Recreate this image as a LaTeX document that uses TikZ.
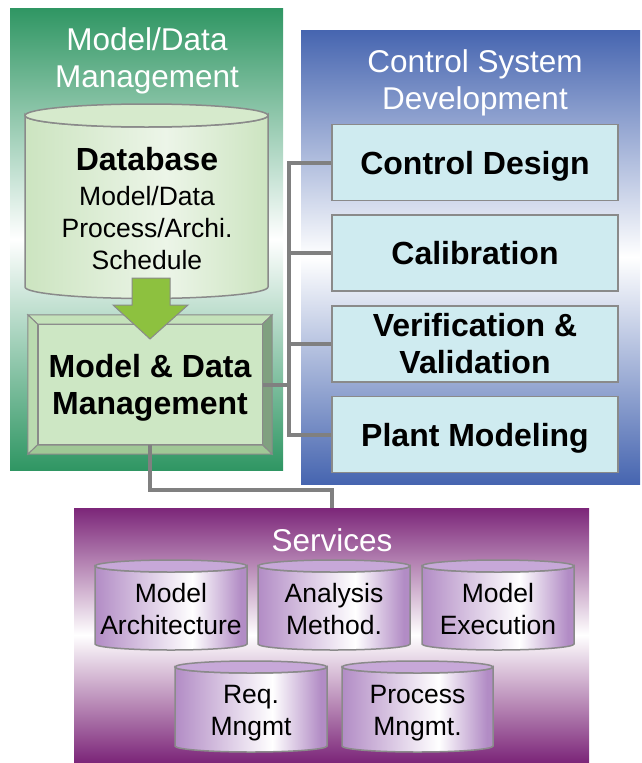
\documentclass[tikz,border=0pt]{standalone}
\usepackage{fontspec}
\setmainfont{Liberation Sans}
\usetikzlibrary{positioning}

\definecolor{mdgreen}{RGB}{47,150,99}
\definecolor{csblue}{RGB}{70,101,176}
\definecolor{svpurple}{RGB}{124,38,121}
\definecolor{boxcyan}{RGB}{207,235,240}
\definecolor{edgegray}{RGB}{138,138,138}
\definecolor{linkgray}{RGB}{128,128,128}
\definecolor{arrowgreen}{RGB}{141,193,63}
\definecolor{dbside}{RGB}{204,228,192}
\definecolor{dblight}{RGB}{236,245,232}
\definecolor{dblid}{RGB}{214,234,204}
\definecolor{svside}{RGB}{178,140,197}
\definecolor{svlid}{RGB}{199,168,216}
\definecolor{mdmfill}{RGB}{205,231,196}
\definecolor{bevtop}{RGB}{196,226,186}
\definecolor{bevleft}{RGB}{186,218,176}
\definecolor{bevright}{RGB}{128,160,128}
\definecolor{bevbot}{RGB}{160,200,150}

\pgfdeclarehorizontalshading{dbshade}{100bp}{color(0bp)=(dbside); color(25bp)=(dbside); color(54bp)=(dblight); color(75bp)=(dbside); color(100bp)=(dbside)}
\pgfdeclarehorizontalshading{svshade}{100bp}{color(0bp)=(svside); color(25bp)=(svside); color(57bp)=(white); color(73bp)=(svside); color(100bp)=(svside)}

\tikzstyle{panel} = [rectangle, inner sep=0pt, draw=none]
\tikzstyle{paneltitle} = [text=white, align=center, text depth=0pt, font=\fontsize{31.5}{37}\selectfont]
\tikzstyle{ctrlbox} = [rectangle, minimum width=286pt, minimum height=76pt, align=center, text depth=0pt, draw=edgegray, line width=1.5pt, fill=boxcyan, font=\bfseries\fontsize{32}{37}\selectfont]
\tikzstyle{mdmbox} = [rectangle, minimum width=224pt, minimum height=120pt, align=center, text depth=0pt, draw=edgegray, line width=1pt, fill=mdmfill, font=\bfseries\fontsize{32}{37}\selectfont]
\tikzstyle{drumtext} = [align=center, text depth=0pt, font=\fontsize{26.5}{32}\selectfont]
\tikzstyle{drumline} = [draw=edgegray, line width=1.5pt]
\tikzstyle{bevel} = [draw=edgegray, line width=1pt]
\tikzstyle{link} = [draw=linkgray, line width=4pt]

% #1 left, #2 right, #3 top, #4 bottom, #5 y radius, #6 body shading, #7 lid colour
\newcommand{\drum}[7]{%
  \path[drumline, shade, shading=#6] (#1,#3) -- (#1,#4)
    arc[start angle=180, end angle=360, x radius={(#2-#1)/2}, y radius=#5] -- (#2,#3)
    arc[start angle=0, end angle=-180, x radius={(#2-#1)/2}, y radius=#5] -- cycle;
  \path[drumline, fill=#7] ({(#1+#2)/2},#3) ellipse[x radius={(#2-#1)/2}, y radius=#5];}

\begin{document}
\begin{tikzpicture}[x=1pt, y=1pt, node distance=90.7pt]
    \useasboundingbox (0,0) rectangle (642,-763);

    % three coloured areas
    \node (mdpanel) [panel, top color=mdgreen, bottom color=mdgreen, middle color=white, minimum width=273pt, minimum height=462pt] at (146.5,-239) {};
    \node (cspanel) [panel, top color=csblue, bottom color=csblue, middle color=white, minimum width=339pt, minimum height=454pt] at (470.5,-257) {};
    \node (svpanel) [panel, top color=svpurple, bottom color=svpurple, middle color=white, minimum width=515pt, minimum height=254pt] at (331.5,-635) {};

    \node (mdtitle) [paneltitle] at (147,-58) {Model/Data\\Management};
    \node (cstitle) [paneltitle] at (475,-80) {Control System\\Development};
    \node (svtitle) [paneltitle] at (332,-540) {Services};

    % database
    \drum{25}{268}{-115.5}{-287}{11.5}{dbshade}{dblid}
    \node (db) [drumtext] at (147,-208) {{\bfseries\fontsize{32}{37}\selectfont Database}\\[3pt]Model/Data\\Process/Archi.\\Schedule};

    % bevelled management box
    \node (mdmframe) [panel, minimum width=244pt, minimum height=139pt] at (150,-384.5) {};
    \node (mdm) [mdmbox] at (mdmframe.center) {Model \& Data\\Management};
    \filldraw[bevel, fill=bevtop] (mdmframe.north west) -- (mdmframe.north east) -- (mdm.north east) -- (mdm.north west) -- cycle;
    \filldraw[bevel, fill=bevleft] (mdmframe.north west) -- (mdm.north west) -- (mdm.south west) -- (mdmframe.south west) -- cycle;
    \filldraw[bevel, fill=bevright] (mdmframe.north east) -- (mdmframe.south east) -- (mdm.south east) -- (mdm.north east) -- cycle;
    \filldraw[bevel, fill=bevbot] (mdmframe.south west) -- (mdm.south west) -- (mdm.south east) -- (mdmframe.south east) -- cycle;

    \filldraw[bevel, fill=arrowgreen] (132,-278) -- (170,-278) -- (170,-305) -- (188,-305) -- (150,-339) -- (113,-305) -- (132,-305) -- cycle;

    % control system boxes
    \node (design) [ctrlbox] at (475,-162.5) {Control Design};
    \node (calib) [ctrlbox, below of=design] {Calibration};
    \node (verif) [ctrlbox, below of=calib] {Verification \&\\Validation};
    \node (plant) [ctrlbox, below of=verif] {Plant Modeling};

    % services
    \drum{95}{247}{-566}{-644}{6}{svshade}{svlid}
    \drum{258}{410}{-566}{-644}{6}{svshade}{svlid}
    \drum{422}{574}{-566}{-644}{6}{svshade}{svlid}
    \drum{175}{327}{-667}{-746}{6}{svshade}{svlid}
    \drum{342}{493}{-667}{-746}{6}{svshade}{svlid}
    \node (arch) [drumtext] at (171,-609) {Model\\Architecture};
    \node (analysis) [drumtext] at (334,-609) {Analysis\\Method.};
    \node (exec) [drumtext] at (498,-609) {Model\\Execution};
    \node (req) [drumtext] at (251,-710) {Req.\\Mngmt};
    \node (process) [drumtext] at (417.5,-710) {Process\\Mngmt.};

    % links
    \coordinate (bus) at (289,-162.5);
    \draw[link] (design.west) -- (bus) |- (plant.west);
    \draw[link] (calib.west) -- (calib.west -| bus);
    \draw[link] (verif.west) -- (verif.west -| bus);
    \draw[link] (mdm.east) -- (mdm.east -| bus);
    \draw[link] (mdm.south) -- ++(0,-45) -| (svpanel.north);
\end{tikzpicture}
\end{document}
